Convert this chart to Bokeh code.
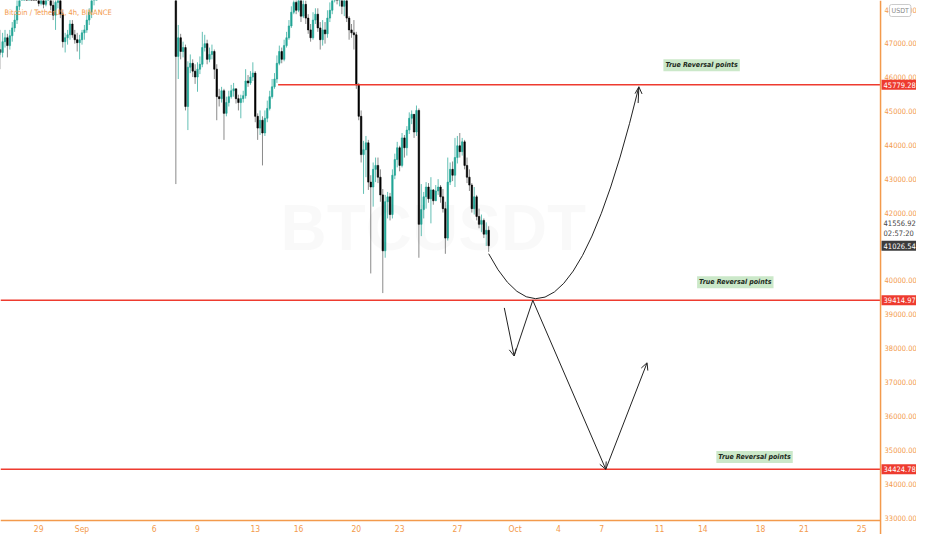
import pandas as pd
from bokeh.plotting import figure
from bokeh.models import Range1d, Label, Arrow, OpenHead, ColumnDataSource
from bokeh.core.properties import value
from bokeh.embed import file_html
from bokeh.resources import INLINE

# ---------------- data ----------------
origin = pd.Timestamp("2021-09-01 00:00")

# segment A: 4h candles from Aug 26 04:00
seg_a_start = "2021-08-26 04:00"
seg_a_open0 = 46675
seg_a_close = [46820, 46733, 47052, 47168, 46936, 47226, 47458, 47690, 48096, 48618,
               48995, 49140, 48908, 49285, 49082, 48850, 48560, 48183, 48328, 48154,
               48444, 48560, 48125, 47835, 48212, 48386, 47864, 47052, 47168, 47255,
               47574, 47255, 47110, 47023, 47110, 47313, 47400, 47690, 47922, 48270,
               48618, 48995]
seg_a_high = [47110, 47400, 47313, 47400, 47284, 47400, 47632, 47864, 48328, 48850,
              49285, 49430, 49372, 49488, 49430, 49198, 48995, 48705, 48560, 48502,
              48618, 48850, 48618, 48328, 48357, 48560, 48444, 47980, 47313, 47400,
              47690, 47690, 47400, 47313, 47255, 47400, 47545, 47835, 48038, 48415,
              48850, 49285]
seg_a_low = [46414, 46240, 46588, 46878, 46588, 46820, 47052, 47342, 47574, 47980,
             48415, 48705, 48705, 48792, 48850, 48618, 48415, 48096, 48125, 48038,
             48096, 48328, 47980, 47690, 47400, 48038, 47748, 46878, 46733, 46965,
             47110, 47168, 46994, 46762, 46530, 46965, 47110, 47313, 47545, 47748,
             48125, 48502]

# segment B: 4h candles from Sep 7 12:00
seg_b_start = "2021-09-07 12:00"
seg_b_open0 = 52400
seg_b_close = [46617, 47168, 46762, 46878, 45138, 46298, 46414, 46182, 46008, 46240,
               46385, 46878, 46994, 46530, 46675, 46762, 46240, 45428, 45370, 45602,
               44935, 45254, 45428, 45602, 45660, 45370, 45254, 45370, 45457, 45892,
               45834, 46008, 46124, 44848, 44500, 44732, 44355, 44790, 45080, 45428,
               45718, 45950, 46414, 46762, 46530, 46936, 47168, 47516, 47922, 48212,
               47980, 48328, 47806, 48154, 47748, 47400, 47168, 47690, 47864, 47458,
               47110, 47400, 47284, 47748, 47980, 48386, 48618, 48328, 48444, 48096,
               48386, 47748, 47400, 47313, 47255, 45776, 44848, 43717, 43862, 44065,
               42905, 42760, 43282, 43398, 43050, 42528, 40875, 42325, 42470, 41948,
               43108, 43572, 43920, 43398, 44210, 43920, 44442, 44790, 44906, 44384,
               45022, 41658, 42093, 42470, 42760, 42412, 42673, 42354, 42644, 42760,
               42470, 42122, 41252, 42905, 43282, 43108, 43630, 43978, 43804, 44094,
               43398, 43050, 42818, 42122, 42470, 41890, 41658, 41774, 41368, 41484,
               41026.54]
seg_b_high = [52800, 47545, 47284, 47052, 46965, 46472, 46675, 46530, 46385, 46443,
              46617, 47342, 47255, 47110, 46878, 46965, 46820, 46385, 45660, 45718,
              45660, 45428, 45602, 45776, 45834, 45660, 45486, 45486, 45602, 46240,
              46066, 46182, 46443, 46182, 44935, 45022, 44848, 45022, 45312, 45602,
              45950, 46124, 46646, 46936, 46878, 47110, 47342, 47690, 48096, 48502,
              48328, 48618, 48386, 48444, 48270, 47864, 47574, 47922, 48038, 48038,
              47632, 47690, 47632, 47980, 48212, 48618, 48908, 48734, 48676, 48444,
              48618, 48444, 47806, 47574, 47690, 47342, 45834, 45022, 44123, 44268,
              44152, 43108, 43485, 43630, 43630, 43282, 42702, 42528, 42615, 42586,
              43282, 43746, 44094, 43978, 44355, 44297, 44558, 44964, 45022, 44906,
              45167, 45080, 42847, 42615, 42905, 42876, 43050, 42702, 42818, 42992,
              42818, 42702, 42325, 43630, 43485, 43514, 44210, 44268, 44355, 44210,
              44152, 43630, 43282, 42876, 42760, 42528, 42122, 41948, 41832, 41716,
              41600]
seg_b_low = [42847, 45950, 46530, 46588, 45022, 44442, 46124, 46008, 45805, 45573,
             46095, 46298, 46762, 46385, 46443, 46530, 45950, 44732, 45138, 45254,
             44152, 44848, 45138, 45370, 45428, 45225, 45022, 44790, 45254, 45370,
             45718, 45776, 45892, 44674, 44152, 44297, 43398, 44268, 44674, 45022,
             45370, 45660, 45834, 46356, 46414, 46472, 46878, 47110, 47458, 47864,
             47864, 47922, 47632, 47748, 47574, 47284, 47052, 47110, 47574, 47342,
             46820, 46936, 46994, 47168, 47632, 47864, 48212, 48154, 48096, 47864,
             47806, 47632, 47110, 47168, 46820, 45660, 44732, 43485, 42557, 43050,
             42673, 40208, 42180, 42905, 42876, 42325, 39628, 40672, 41832, 41774,
             41832, 42992, 43340, 43224, 43340, 43630, 43688, 44326, 44616, 44210,
             44268, 40672, 41310, 41832, 42122, 42296, 41687, 42238, 42354, 42528,
             42296, 42006, 40788, 41180, 42818, 42934, 42760, 43456, 43630, 43688,
             43282, 42876, 42644, 42006, 41948, 41774, 41542, 41426, 41252, 41020,
             40846]

# horizontal levels
level_prices = [45779.28, 39414.97, 34424.78]
level_start_dates = ["2021-09-14 14:00", None, None]

# axes
tick_dates = ["2021-08-29", "2021-09-01", "2021-09-06", "2021-09-09", "2021-09-13",
              "2021-09-16", "2021-09-20", "2021-09-23", "2021-09-27", "2021-10-01",
              "2021-10-04", "2021-10-07", "2021-10-11", "2021-10-14", "2021-10-18",
              "2021-10-21", "2021-10-25"]
tick_labels = ["29", "Sep", "6", "9", "13", "16", "20", "23", "27", "Oct",
               "4", "7", "11", "14", "18", "21", "25"]
price_ticks = list(range(33000, 49000, 1000))

# drawing: parabola (quadratic bezier), date / price
curve_dates = ["2021-09-29 04:00", "2021-10-04 09:00", "2021-10-09 13:40"]
curve_prices = [40790, 36580, 45720]
# zigzag arrows
zig_start_dates = ["2021-09-30 06:00", "2021-09-30 22:20", "2021-10-02 05:20", "2021-10-07 06:40"]
zig_start_prices = [39190, 37770, 39415, 34425]
zig_end_dates = ["2021-09-30 22:20", "2021-10-02 05:20", "2021-10-07 06:40", "2021-10-10 03:20"]
zig_end_prices = [37770, 39415, 34425, 37570]
zig_heads = [True, False, True, True]

note_text = "True Reversal points"
note_dates = ["2021-10-13 22:00", "2021-10-16 06:00", "2021-10-17 14:00"]
note_prices = [46356, 39947, 34785]

last_price = 41026.54
info_price = "41556.92"
countdown = "02:57:20"

# ---------------- helpers ----------------
def day(ts):
    return (pd.Timestamp(ts) - origin) / pd.Timedelta(days=1)

ORANGE = "#f39a4c"
RED = "#ee3b2f"
UP = "#22a596"
DOWN = "#000000"
FONT = "DejaVu Sans Condensed"
FONT2 = "Liberation Sans"

# view: whole chart incl. price/time scales
X_LEFT, X_RIGHT = -5.646, 57.80
Y_BOTTOM, Y_TOP = 32499, 48268
AXIS_DAY = 55.31       # price scale border
AXIS_PRICE = 32911     # time scale border
TIME_LABEL_PRICE = 32676

p = figure(width=916, height=534, output_backend="svg", toolbar_location=None,
           x_range=Range1d(X_LEFT, X_RIGHT), y_range=Range1d(Y_BOTTOM, Y_TOP),
           min_border=0)
p.outline_line_color = None
p.grid.visible = False
p.axis.visible = False
p.background_fill_color = "white"
p.border_fill_color = "white"

# watermark
p.add_layout(Label(x=day("2021-09-25 08:00"), y=41542, text="BTCUSDT", text_align="center",
                   text_baseline="middle", text_font_size="64px", text_color="#000000",
                   text_alpha=0.025, text_font=FONT2, text_font_style="bold"))

# candles
def build(start, open0, closes, highs, lows):
    t0 = pd.Timestamp(start)
    xs = [day(t0 + pd.Timedelta(hours=4 * i)) for i in range(len(closes))]
    opens = [open0] + closes[:-1]
    return xs, opens, closes, highs, lows

rows = {"x": [], "o": [], "c": [], "h": [], "l": []}
for seg in (build(seg_a_start, seg_a_open0, seg_a_close, seg_a_high, seg_a_low),
            build(seg_b_start, seg_b_open0, seg_b_close, seg_b_high, seg_b_low)):
    for k, v in zip(("x", "o", "c", "h", "l"), seg):
        rows[k] += list(v)
df = pd.DataFrame(rows)
df["h"] = df[["h", "o", "c"]].max(axis=1)
df["l"] = df[["l", "o", "c"]].min(axis=1)
df["top"] = df[["o", "c"]].max(axis=1)
df["bot"] = df[["o", "c"]].min(axis=1)
up = ColumnDataSource(df[df.c >= df.o])
dn = ColumnDataSource(df[df.c < df.o])
p.segment("x", "h", "x", "l", source=up, line_color=UP, line_alpha=0.7, line_width=1)
p.segment("x", "h", "x", "l", source=dn, line_color="#8a8a8a", line_width=1)
p.vbar("x", 0.1, "top", "bot", source=up, fill_color=UP, line_color=UP, line_width=0.6)
p.vbar("x", 0.1, "top", "bot", source=dn, fill_color=DOWN, line_color=DOWN, line_width=0.6)

# levels
for price, sd in zip(level_prices, level_start_dates):
    xs = day(sd) if sd else X_LEFT
    p.segment(x0=[xs], y0=[price], x1=[AXIS_DAY], y1=[price], line_color=RED, line_width=1.6)

# parabola
p.quadratic(x0=[day(curve_dates[0])], y0=[curve_prices[0]],
            cx=[day(curve_dates[1])], cy=[curve_prices[1]],
            x1=[day(curve_dates[2])], y1=[curve_prices[2]],
            line_color="#222222", line_width=1)
p.add_layout(Arrow(end=OpenHead(size=7, line_color="#222222", line_width=1),
                   x_start=day(curve_dates[2]) - 0.05, y_start=curve_prices[2] - 480,
                   x_end=day(curve_dates[2]), y_end=curve_prices[2],
                   line_color="#222222", line_width=1))
for sd, sp, ed, ep, hd in zip(zig_start_dates, zig_start_prices, zig_end_dates, zig_end_prices, zig_heads):
    p.add_layout(Arrow(end=OpenHead(size=7, line_color="#222222", line_width=1) if hd else None,
                       x_start=day(sd), y_start=sp, x_end=day(ed), y_end=ep,
                       line_color="#222222", line_width=1))

# notes
for d, pr in zip(note_dates, note_prices):
    p.add_layout(Label(x=day(d), y=pr, text=note_text, text_align="center", text_baseline="middle",
                       text_font_size="7px", text_font_style="bold italic", text_color="#1d2a1d",
                       text_font=FONT, background_fill_color="#cbe8c9", padding=2))

# title
p.add_layout(Label(x=X_LEFT, y=Y_TOP, x_offset=4, y_offset=-12, text="Bitcoin / TetherUS, 4h, BINANCE",
                   text_baseline="middle", text_font_size="7.5px", text_color=ORANGE, text_font=FONT))

# scales (price on right, time below)
p.segment(x0=[AXIS_DAY], y0=[Y_BOTTOM], x1=[AXIS_DAY], y1=[Y_TOP], line_color=ORANGE, line_width=1.5)
p.segment(x0=[X_LEFT], y0=[AXIS_PRICE], x1=[AXIS_DAY], y1=[AXIS_PRICE], line_color=ORANGE, line_width=1.5)
p.text(x=[AXIS_DAY] * len(price_ticks), y=price_ticks, text=[f"{t:.2f}" for t in price_ticks],
       x_offset=4, text_baseline="middle", text_align="left", text_color=ORANGE,
       text_font=value(FONT), text_font_size=value("7.5px"))
p.text(x=[day(d) for d in tick_dates], y=[TIME_LABEL_PRICE] * len(tick_dates), text=tick_labels,
       text_baseline="middle", text_align="center", text_color=ORANGE,
       text_font=value(FONT), text_font_size=value("8.5px"))

# price tags on the scale
def axis_tag(price, text, bg, fg, yoff=0):
    p.add_layout(Label(x=AXIS_DAY, y=price, x_offset=1, y_offset=yoff, text=text, text_baseline="middle",
                       text_font_size="7.5px", text_color=fg, text_font=FONT,
                       background_fill_color=bg, padding=2))

for price in level_prices:
    axis_tag(price, f"{price:.2f}", RED, "white")
axis_tag(last_price, f"{last_price:.2f}", "#3c3c3c", "white")
axis_tag(last_price, info_price, None, "#444444", yoff=23)
axis_tag(last_price, countdown, None, "#444444", yoff=12)
p.add_layout(Label(x=AXIS_DAY, y=Y_TOP, x_offset=9, y_offset=-10, text="USDT", text_baseline="middle",
                   text_font_size="7px", text_color="#888888", text_font=FONT,
                   background_fill_color="white", border_line_color="#cccccc", padding=2,
                   border_radius=2))

open("out.html", "w").write(file_html(p, INLINE))
